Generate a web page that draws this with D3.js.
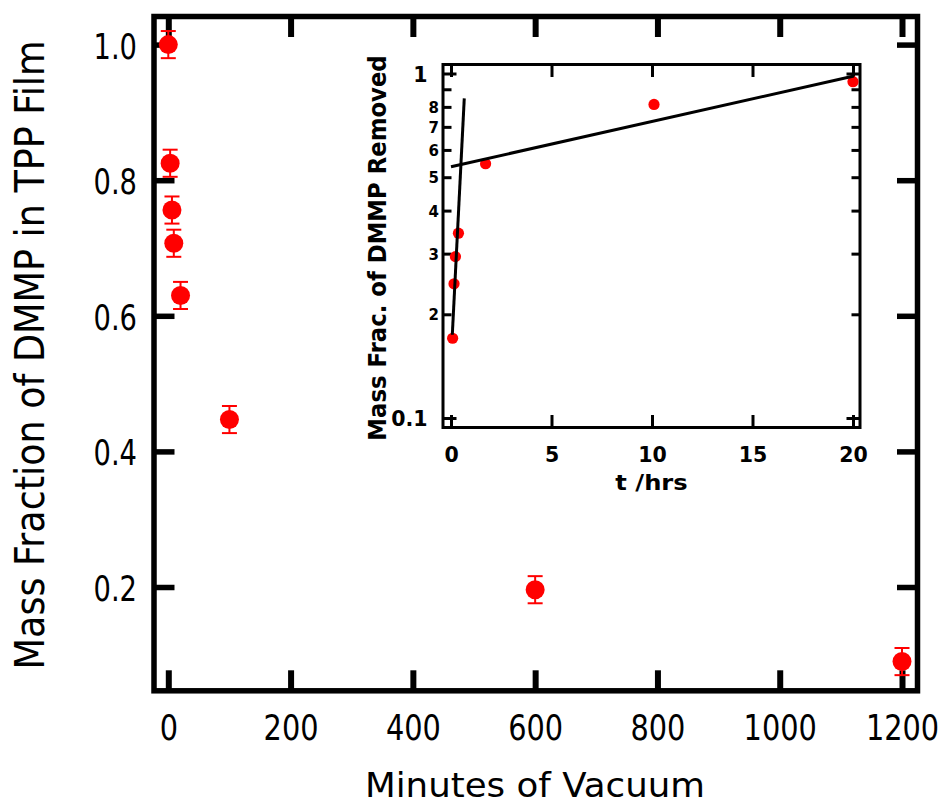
<!DOCTYPE html>
<html>
<head>
<meta charset="utf-8">
<script src="https://cdn.jsdelivr.net/npm/d3@7/dist/d3.min.js"></script>
<style>
  html, body { margin: 0; padding: 0; background: #fff; }
  svg { display: block; }
</style>
</head>
<body>
<script>
// ---------------- data ----------------
const minutes       = [0, 3, 6, 9, 20, 100, 600, 1200];
const massFraction  = [1.0, 0.825, 0.756, 0.707, 0.630, 0.447, 0.196, 0.090];
const massError     = [0.02, 0.02, 0.02, 0.02, 0.02, 0.02, 0.02, 0.02];

const insetHours    = [0.08, 0.15, 0.22, 0.37, 1.72, 10.1, 20.0];
const insetRemoved  = [0.171, 0.246, 0.295, 0.345, 0.549, 0.816, 0.95];
const fitFastHours  = [0.065, 0.66];
const fitFastValues = [0.175, 0.85];
const fitSlowHours  = [0.0, 20.05];
const fitSlowValues = [0.538, 0.987];

const mainXTicks  = [0, 200, 400, 600, 800, 1000, 1200];
const mainYTicks  = [0.2, 0.4, 0.6, 0.8, 1.0];
const mainYLabels = ["0.2", "0.4", "0.6", "0.8", "1.0"];
const insetXTicks = [0, 5, 10, 15, 20];
const insetYMajor = [0.1, 1];
const insetYMajorLabels = ["0.1", "1"];
const insetYMinor = [0.2, 0.3, 0.4, 0.5, 0.6, 0.7, 0.8, 0.9];
const insetYMinorLabels = ["2", "3", "4", "5", "6", "7", "8", ""];

const xTitle = "Minutes of Vacuum";
const yTitle = "Mass Fraction of DMMP in TPP Film";
const insetXTitle = "t /hrs";
const insetYTitle = "Mass Frac. of DMMP Removed";

// ---------------- layout ----------------
const W = 943, H = 804;
const RED = "#ff0000";
const FONT = "DejaVu Sans, Verdana, sans-serif";
const svg = d3.select("body").append("svg").attr("width", W).attr("height", H);

// main plot frame (stroke centre lines)
const F = { l: 154, r: 917.5, t: 16.5, b: 690.8 };
const x = d3.scaleLinear().domain([0, 1200]).range([168.3, 902]);
const y = d3.scaleLinear().domain([0, 1]).range([722.6, 44.6]);

const main = svg.append("g");
main.append("rect")
  .attr("x", F.l).attr("y", F.t).attr("width", F.r - F.l).attr("height", F.b - F.t)
  .attr("fill", "none").attr("stroke", "#000").attr("stroke-width", 5.5);

const TL = 20.5;
const SX = 0.8;   // horizontal squeeze of main tick labels
// bottom axis
const gxb = main.append("g").attr("transform", `translate(0,${F.b})`)
  .call(d3.axisBottom(x).tickValues(mainXTicks).tickSize(-TL).tickPadding(0).tickFormat(d3.format("d")));
gxb.select(".domain").remove();
gxb.selectAll(".tick line").attr("stroke", "#000").attr("stroke-width", 6);
gxb.selectAll(".tick text").attr("y", 740 - F.b).attr("dy", null).attr("x", 0)
  .attr("transform", `scale(${SX},1)`)
  .attr("font-family", FONT).attr("font-size", 36).attr("fill", "#000");
// top axis (ticks only)
const gxt = main.append("g").attr("transform", `translate(0,${F.t})`)
  .call(d3.axisTop(x).tickValues(mainXTicks).tickSize(-TL).tickFormat(""));
gxt.select(".domain").remove();
gxt.selectAll(".tick line").attr("stroke", "#000").attr("stroke-width", 6);
// left axis
const SY = 0.76;
const gyl = main.append("g").attr("transform", `translate(${F.l},0)`)
  .call(d3.axisLeft(y).tickValues(mainYTicks).tickSize(-TL).tickPadding(0)
    .tickFormat((d, i) => mainYLabels[i]));
gyl.select(".domain").remove();
gyl.selectAll(".tick line").attr("stroke", "#000").attr("stroke-width", 5.5);
gyl.selectAll(".tick text").attr("x", (137 - F.l) / SY).attr("dy", null).attr("y", 13.5)
  .attr("transform", `scale(${SY},1)`)
  .attr("text-anchor", "end")
  .attr("font-family", FONT).attr("font-size", 36).attr("fill", "#000");
// right axis (ticks only)
const gyr = main.append("g").attr("transform", `translate(${F.r},0)`)
  .call(d3.axisRight(y).tickValues(mainYTicks).tickSize(-TL).tickFormat(""));
gyr.select(".domain").remove();
gyr.selectAll(".tick line").attr("stroke", "#000").attr("stroke-width", 5.5);

// titles
main.append("text").attr("transform", "translate(535,797) scale(1.033,1)").attr("text-anchor", "middle")
  .attr("font-family", FONT).attr("font-size", 34.5).text(xTitle);
main.append("text").attr("transform", "translate(43.5,355) rotate(-90) scale(0.89,1)").attr("text-anchor", "middle")
  .attr("font-family", FONT).attr("font-size", 41).text(yTitle);

// ---------------- inset ----------------
const I = { l: 443, r: 860, t: 64.5, b: 427.5 };
const xi = d3.scaleLinear().domain([0, 20]).range([451, 853]);
const yi = d3.scaleLog().domain([0.1, 1]).range([418.5, 74]);
const inset = svg.append("g");
inset.append("rect")
  .attr("x", I.l).attr("y", I.t).attr("width", I.r - I.l).attr("height", I.b - I.t)
  .attr("fill", "#fff").attr("stroke", "#000").attr("stroke-width", 3);

const ixb = inset.append("g").attr("transform", `translate(0,${I.b})`)
  .call(d3.axisBottom(xi).tickValues(insetXTicks).tickSize(-12.5).tickFormat(d3.format("d")));
ixb.select(".domain").remove();
ixb.selectAll(".tick line").attr("stroke", "#000").attr("stroke-width", 3);
ixb.selectAll(".tick text").attr("y", 461.7 - I.b).attr("dy", null)
  .attr("font-family", FONT).attr("font-weight", "bold")
  .attr("font-size", 20.5).attr("fill", "#000");
const ixt = inset.append("g").attr("transform", `translate(0,${I.t})`)
  .call(d3.axisTop(xi).tickValues(insetXTicks).tickSize(-12.5).tickFormat(""));
ixt.select(".domain").remove();
ixt.selectAll(".tick line").attr("stroke", "#000").attr("stroke-width", 3);

function yTicks(g, side) {
  const sgn = side === "left" ? 1 : -1;
  const x0 = side === "left" ? I.l : I.r;
  g.selectAll("line.maj").data(insetYMajor).join("line").attr("class", "maj")
    .attr("x1", x0).attr("x2", x0 + sgn * 13.5)
    .attr("y1", d => yi(d)).attr("y2", d => yi(d))
    .attr("stroke", "#000").attr("stroke-width", 3);
  g.selectAll("line.min").data(insetYMinor).join("line").attr("class", "min")
    .attr("x1", x0).attr("x2", x0 + sgn * 8.5)
    .attr("y1", d => yi(d)).attr("y2", d => yi(d))
    .attr("stroke", "#000").attr("stroke-width", 3);
}
yTicks(inset.append("g"), "left");
yTicks(inset.append("g"), "right");

inset.append("g").selectAll("text").data(insetYMajor).join("text")
  .attr("x", 427.5).attr("y", d => yi(d) + 7.5).attr("text-anchor", "end")
  .attr("font-family", FONT).attr("font-weight", "bold")
  .attr("font-size", 20.5).text((d, i) => insetYMajorLabels[i]);
inset.append("g").selectAll("text").data(insetYMinor).join("text")
  .attr("x", 439).attr("y", d => yi(d) + 5.5).attr("text-anchor", "end")
  .attr("font-family", FONT).attr("font-weight", "bold")
  .attr("font-size", 15).text((d, i) => insetYMinorLabels[i]);

inset.append("text").attr("transform", "translate(651.5,490) scale(1.1,1)").attr("text-anchor", "middle")
  .attr("font-family", FONT).attr("font-weight", "bold")
  .attr("font-size", 22).text(insetXTitle);
inset.append("text").attr("transform", "translate(385.5,248) rotate(-90) scale(0.95,1)").attr("text-anchor", "middle")
  .attr("font-family", FONT).attr("font-weight", "bold")
  .attr("font-size", 24).text(insetYTitle);

// inset points
inset.append("g").selectAll("circle").data(insetHours).join("circle")
  .attr("cx", d => xi(d)).attr("cy", (d, i) => yi(insetRemoved[i])).attr("r", 5.6).attr("fill", RED);

// fit lines
const line = d3.line().x(d => xi(d[0])).y(d => yi(d[1]));
inset.append("path").datum(fitFastHours.map((t, i) => [t, fitFastValues[i]]))
  .attr("d", line).attr("fill", "none").attr("stroke", "#000").attr("stroke-width", 3);
inset.append("path").datum(fitSlowHours.map((t, i) => [t, fitSlowValues[i]]))
  .attr("d", line).attr("fill", "none").attr("stroke", "#000").attr("stroke-width", 3);

// ---------------- main data ----------------
const pts = main.append("g");
const eb = pts.selectAll("g.eb").data(minutes).join("g");
eb.append("line").attr("x1", d => x(d)).attr("x2", d => x(d))
  .attr("y1", (d, i) => y(massFraction[i] + massError[i])).attr("y2", (d, i) => y(massFraction[i] - massError[i]))
  .attr("stroke", RED).attr("stroke-width", 2);
eb.append("line").attr("x1", d => x(d) - 7.5).attr("x2", d => x(d) + 7.5)
  .attr("y1", (d, i) => y(massFraction[i] + massError[i])).attr("y2", (d, i) => y(massFraction[i] + massError[i]))
  .attr("stroke", RED).attr("stroke-width", 2);
eb.append("line").attr("x1", d => x(d) - 7.5).attr("x2", d => x(d) + 7.5)
  .attr("y1", (d, i) => y(massFraction[i] - massError[i])).attr("y2", (d, i) => y(massFraction[i] - massError[i]))
  .attr("stroke", RED).attr("stroke-width", 2);
eb.append("circle").attr("cx", d => x(d)).attr("cy", (d, i) => y(massFraction[i])).attr("r", 9.5).attr("fill", RED);
</script>
</body>
</html>
